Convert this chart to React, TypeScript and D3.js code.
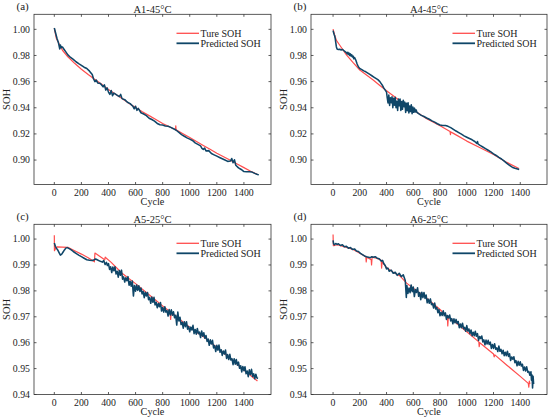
import React from "react";
import * as d3 from "d3";

type Pt = [number, number];

const cycleTicks = [0, 200, 400, 600, 800, 1000, 1200, 1400];
const sohTicksTop = [0.9, 0.92, 0.94, 0.96, 0.98, 1.0];
const sohTicksBottom = [0.94, 0.95, 0.96, 0.97, 0.98, 0.99, 1.0];
const seriesNames = ["Ture SOH", "Predicted SOH"];
const panelLabels = ["(a)", "(b)", "(c)", "(d)"];
const panelTitles = ["A1-45°C", "A4-45°C", "A5-25°C", "A6-25°C"];

const trueA: Pt[] = [
  [0, 1.001], [5, 0.998], [15, 0.993], [30, 0.99], [40, 0.988], [60, 0.984], [100, 0.979],
  [150, 0.974], [200, 0.9695], [250, 0.9655], [300, 0.9617], [350, 0.958], [400, 0.954],
  [450, 0.9505], [500, 0.947], [550, 0.9435], [600, 0.9402], [650, 0.937], [700, 0.934],
  [750, 0.931], [800, 0.928], [850, 0.9255], [895, 0.9232], [897, 0.9262], [899, 0.9232],
  [950, 0.9202], [1000, 0.9172], [1050, 0.9142], [1100, 0.9112], [1150, 0.9082],
  [1200, 0.9052], [1250, 0.9025], [1300, 0.8998], [1350, 0.897], [1400, 0.8942],
  [1450, 0.8915], [1500, 0.889],
];
const predA: Pt[] = [
  [0, 1.001], [10, 0.997], [20, 0.993], [30, 0.99], [40, 0.985], [45, 0.988], [50, 0.986],
  [60, 0.9865], [70, 0.985], [80, 0.9835], [100, 0.9805], [120, 0.9785], [140, 0.977],
  [160, 0.9752], [180, 0.9738], [200, 0.9725], [220, 0.971], [240, 0.970], [260, 0.968],
  [280, 0.9655], [290, 0.962], [300, 0.960], [310, 0.9612], [320, 0.959], [340, 0.9585],
  [360, 0.956], [370, 0.9575], [380, 0.9535], [390, 0.9552], [400, 0.952], [410, 0.9502],
  [420, 0.9532], [430, 0.9492], [440, 0.9512], [460, 0.9498], [480, 0.9485], [490, 0.9502],
  [500, 0.947], [520, 0.9462], [540, 0.9442], [560, 0.9432], [580, 0.9412], [590, 0.9392],
  [600, 0.9412], [610, 0.938], [620, 0.9395], [640, 0.9362], [660, 0.9352], [680, 0.934],
  [700, 0.932], [720, 0.931], [740, 0.9298], [760, 0.928], [780, 0.927], [800, 0.9268],
  [820, 0.926], [840, 0.9258], [860, 0.925], [880, 0.924], [900, 0.9228], [920, 0.9212],
  [940, 0.9195], [960, 0.9182], [980, 0.917], [1000, 0.916], [1020, 0.915], [1040, 0.9132],
  [1060, 0.912], [1080, 0.9108], [1090, 0.909], [1100, 0.9082], [1110, 0.9092],
  [1120, 0.907], [1140, 0.9072], [1160, 0.905], [1180, 0.904], [1200, 0.903],
  [1220, 0.902], [1240, 0.901], [1260, 0.900], [1280, 0.899], [1300, 0.8992],
  [1310, 0.9012], [1320, 0.898], [1330, 0.9002], [1340, 0.896], [1360, 0.894],
  [1380, 0.8928], [1400, 0.8912], [1420, 0.891], [1440, 0.891], [1460, 0.8908],
  [1480, 0.8898], [1500, 0.889], [1510, 0.8888],
];

const trueB: Pt[] = [
  [0, 1.0002], [12, 0.9957], [25, 0.9915], [49, 0.988], [100, 0.9804], [150, 0.9745],
  [200, 0.9689], [250, 0.965], [300, 0.9612], [350, 0.957], [400, 0.953], [450, 0.9492],
  [500, 0.9454], [550, 0.9418], [600, 0.9383], [650, 0.935], [700, 0.9316], [750, 0.929],
  [800, 0.9263], [875, 0.9218], [878, 0.9195], [881, 0.9215], [900, 0.9204],
  [1000, 0.9145], [1100, 0.9094], [1200, 0.9043], [1300, 0.8982], [1390, 0.8936],
];
const predB: Pt[] = [
  [0, 0.999], [4, 0.9975], [8, 0.996], [12, 0.995], [16, 0.993], [20, 0.99], [25, 0.9865],
  [30, 0.985], [40, 0.9845], [50, 0.9848], [60, 0.9842], [70, 0.9846], [80, 0.9838],
  [90, 0.983], [100, 0.9822], [105, 0.9812], [110, 0.9825], [115, 0.9808], [120, 0.9818],
  [125, 0.980], [130, 0.9812], [135, 0.9795], [140, 0.9805], [145, 0.9788], [150, 0.9795],
  [155, 0.9775], [160, 0.9785], [170, 0.9765], [180, 0.9735], [190, 0.9712], [200, 0.970],
  [215, 0.9692], [230, 0.9682], [245, 0.9675], [260, 0.9665], [275, 0.9655], [290, 0.9645],
  [305, 0.9635], [320, 0.9625], [335, 0.9615], [350, 0.960], [360, 0.9585], [370, 0.957],
  [380, 0.955], [390, 0.9535], [400, 0.952], [405, 0.9478], [411, 0.9437], [417, 0.9498],
  [423, 0.9417], [429, 0.9476], [435, 0.9439], [441, 0.9484], [447, 0.9401], [453, 0.9473],
  [459, 0.942], [465, 0.948], [471, 0.940], [477, 0.945], [483, 0.938], [489, 0.9467],
  [495, 0.9416], [501, 0.9466], [507, 0.9379], [513, 0.9448], [519, 0.9388], [525, 0.9458],
  [531, 0.9408], [537, 0.9443], [543, 0.9364], [549, 0.9434], [555, 0.9377], [561, 0.9439],
  [567, 0.9361], [573, 0.9413], [579, 0.9371], [585, 0.9423], [591, 0.9355], [597, 0.9405],
  [603, 0.9365], [609, 0.9397], [615, 0.9367], [621, 0.9384], [627, 0.9365], [640, 0.9355],
  [660, 0.9342], [680, 0.9333], [700, 0.9322], [720, 0.9312], [740, 0.930], [760, 0.929],
  [780, 0.9278], [800, 0.9268], [820, 0.9265], [840, 0.9265], [860, 0.9258], [880, 0.9248],
  [900, 0.9235], [920, 0.9222], [940, 0.921], [960, 0.9198], [980, 0.9185], [1000, 0.9175],
  [1020, 0.9165], [1040, 0.9155], [1060, 0.9142], [1075, 0.9128], [1080, 0.9142],
  [1085, 0.9122], [1100, 0.9112], [1120, 0.910], [1140, 0.9088], [1160, 0.9075],
  [1180, 0.9062], [1200, 0.9048], [1220, 0.9035], [1240, 0.902], [1260, 0.9008],
  [1280, 0.8992], [1300, 0.8975], [1320, 0.896], [1340, 0.8945], [1360, 0.8938],
  [1380, 0.8932], [1392, 0.8928],
];

const trueC: Pt[] = [
  [0, 1.0015], [1, 0.9955], [8, 0.9962], [20, 0.997], [60, 0.9969], [100, 0.9968],
  [150, 0.9955], [200, 0.9942], [250, 0.9928], [296, 0.9912], [300, 0.9946], [340, 0.9932],
  [372, 0.992], [376, 0.993], [420, 0.991], [500, 0.9868], [600, 0.9828], [700, 0.9785],
  [800, 0.9742], [855, 0.972], [859, 0.969], [863, 0.9716], [900, 0.9702], [950, 0.968],
  [1000, 0.966], [1050, 0.964], [1100, 0.9624], [1200, 0.9582], [1300, 0.954],
  [1400, 0.9494], [1500, 0.9452],
];
const predC: Pt[] = [
  [0, 0.9985], [8, 0.9972], [15, 0.9965], [25, 0.9958], [35, 0.9948], [45, 0.9938],
  [55, 0.9942], [65, 0.995], [75, 0.9958], [85, 0.9965], [95, 0.9967], [110, 0.9963],
  [125, 0.9958], [140, 0.9952], [160, 0.9945], [180, 0.9938], [200, 0.9932], [220, 0.9926],
  [240, 0.992], [260, 0.9918], [280, 0.9917], [295, 0.992], [305, 0.9923], [320, 0.9919],
  [340, 0.9914], [355, 0.9911], [365, 0.9917], [375, 0.9902], [385, 0.991], [392, 0.9898],
  [400, 0.9905], [408, 0.9883], [416, 0.9893], [424, 0.9871], [432, 0.9892], [440, 0.9878],
  [448, 0.9893], [456, 0.9865], [464, 0.9876], [472, 0.9853], [480, 0.9879], [488, 0.986],
  [496, 0.988], [504, 0.9845], [512, 0.9854], [520, 0.9834], [528, 0.9851], [536, 0.9839],
  [544, 0.9855], [552, 0.9822], [560, 0.9837], [568, 0.9818], [576, 0.9838], [584, 0.978],
  [592, 0.9821], [600, 0.9799], [608, 0.9823], [616, 0.9802], [624, 0.982], [632, 0.9798],
  [640, 0.9811], [648, 0.9788], [656, 0.9798], [664, 0.9774], [672, 0.9795], [680, 0.978],
  [688, 0.9794], [696, 0.9766], [704, 0.9775], [712, 0.9752], [720, 0.9776], [728, 0.9756],
  [736, 0.9775], [744, 0.9746], [752, 0.9756], [760, 0.9735], [768, 0.9751], [776, 0.9739],
  [784, 0.9755], [792, 0.9722], [800, 0.9736], [808, 0.9718], [816, 0.9739], [824, 0.9718],
  [832, 0.9724], [840, 0.9703], [848, 0.9728], [856, 0.9707], [864, 0.9727], [872, 0.9706],
  [880, 0.9719], [888, 0.9696], [896, 0.9706], [904, 0.9668], [912, 0.9718], [920, 0.9684],
  [928, 0.9698], [936, 0.967], [944, 0.9679], [952, 0.9656], [960, 0.9681], [968, 0.9662],
  [976, 0.9681], [984, 0.9652], [992, 0.9662], [1000, 0.9642], [1008, 0.966], [1016, 0.9649],
  [1024, 0.9667], [1032, 0.9635], [1040, 0.9651], [1048, 0.9633], [1056, 0.9655],
  [1064, 0.9635], [1072, 0.9641], [1080, 0.962], [1088, 0.9645], [1096, 0.9625],
  [1104, 0.9638], [1112, 0.9617], [1120, 0.9628], [1128, 0.9605], [1136, 0.9614],
  [1144, 0.959], [1152, 0.9611], [1160, 0.9595], [1168, 0.9609], [1176, 0.958],
  [1184, 0.9589], [1192, 0.9566], [1200, 0.959], [1208, 0.9571], [1216, 0.9591],
  [1224, 0.9563], [1232, 0.9573], [1240, 0.9551], [1248, 0.9568], [1256, 0.9556],
  [1264, 0.9572], [1272, 0.9539], [1280, 0.9554], [1288, 0.9535], [1296, 0.9555],
  [1304, 0.9533], [1312, 0.9538], [1320, 0.9515], [1328, 0.9538], [1336, 0.9517],
  [1344, 0.9535], [1352, 0.9513], [1360, 0.9525], [1368, 0.9501], [1376, 0.9511],
  [1384, 0.9487], [1392, 0.9508], [1400, 0.9492], [1408, 0.9507], [1416, 0.948],
  [1424, 0.9491], [1432, 0.9469], [1440, 0.9495], [1448, 0.9477], [1456, 0.9497],
  [1464, 0.947], [1472, 0.948], [1480, 0.9461], [1488, 0.9478], [1496, 0.9464],
  [1504, 0.9462],
];

const trueD: Pt[] = [
  [0, 1.0018], [2, 0.9975], [10, 0.9975], [30, 0.9978], [100, 0.9968], [150, 0.996],
  [200, 0.9945], [245, 0.9932], [248, 0.9912], [252, 0.993], [285, 0.992], [288, 0.990],
  [292, 0.993], [330, 0.9925], [360, 0.9918], [363, 0.9888], [367, 0.9912], [400, 0.989],
  [450, 0.9872], [500, 0.9858], [550, 0.983], [600, 0.981], [700, 0.9772], [800, 0.9728],
  [855, 0.970], [858, 0.9665], [862, 0.9698], [900, 0.9685], [1000, 0.9642],
  [1090, 0.9603], [1093, 0.9585], [1097, 0.960], [1200, 0.9556], [1205, 0.9545],
  [1210, 0.9553], [1300, 0.9513], [1400, 0.947], [1460, 0.9443], [1464, 0.9428],
  [1468, 0.9452], [1472, 0.944],
];
const predD: Pt[] = [
  [0, 0.9995], [4, 0.9982], [10, 0.9978], [20, 0.9983], [30, 0.9979], [40, 0.9982],
  [55, 0.9975], [70, 0.9978], [85, 0.997], [100, 0.9972], [115, 0.9965], [130, 0.9967],
  [145, 0.996], [160, 0.9962], [175, 0.9954], [190, 0.9952], [205, 0.9945], [220, 0.994],
  [235, 0.9935], [250, 0.9932], [265, 0.993], [280, 0.9928], [290, 0.9932], [300, 0.993],
  [315, 0.9932], [330, 0.9926], [345, 0.9924], [360, 0.9915], [370, 0.9918], [380, 0.9905],
  [390, 0.9898], [400, 0.9885], [410, 0.9888], [420, 0.9876], [435, 0.988], [450, 0.9868],
  [465, 0.9872], [480, 0.986], [495, 0.9868], [510, 0.9855], [525, 0.9862], [540, 0.984],
  [548, 0.9775], [552, 0.9821], [560, 0.979], [568, 0.9811], [576, 0.9793], [584, 0.9823],
  [592, 0.9797], [600, 0.9815], [608, 0.9778], [616, 0.9805], [624, 0.9794], [632, 0.9812],
  [640, 0.9779], [648, 0.9794], [656, 0.9766], [664, 0.9795], [672, 0.9774], [680, 0.9794],
  [688, 0.9771], [696, 0.9784], [704, 0.9754], [712, 0.9768], [720, 0.9752], [728, 0.9769],
  [736, 0.9747], [744, 0.9751], [752, 0.9734], [760, 0.9753], [768, 0.973], [776, 0.9736],
  [784, 0.9716], [792, 0.9728], [800, 0.9704], [808, 0.9717], [816, 0.9705], [824, 0.9723],
  [832, 0.9704], [840, 0.9715], [848, 0.969], [856, 0.9705], [864, 0.9696], [872, 0.9707],
  [880, 0.9684], [888, 0.9693], [896, 0.9673], [904, 0.9692], [912, 0.9677], [920, 0.969],
  [928, 0.9674], [936, 0.9682], [944, 0.9658], [952, 0.9672], [960, 0.9658], [968, 0.9675],
  [976, 0.9654], [984, 0.9659], [992, 0.9644], [1000, 0.9666], [1008, 0.9645],
  [1016, 0.9653], [1024, 0.9635], [1032, 0.9649], [1040, 0.9627], [1048, 0.964],
  [1056, 0.9627], [1064, 0.9644], [1072, 0.9625], [1080, 0.9635], [1088, 0.9609],
  [1096, 0.9624], [1104, 0.9616], [1112, 0.9626], [1120, 0.9603], [1128, 0.9611],
  [1136, 0.9592], [1144, 0.961], [1152, 0.9595], [1160, 0.9609], [1168, 0.9593],
  [1176, 0.9602], [1184, 0.9578], [1192, 0.9593], [1200, 0.9578], [1208, 0.9596],
  [1216, 0.9575], [1224, 0.958], [1232, 0.9566], [1240, 0.9587], [1248, 0.9567],
  [1256, 0.9574], [1264, 0.9557], [1272, 0.9571], [1280, 0.955], [1288, 0.9563],
  [1296, 0.955], [1304, 0.9567], [1312, 0.9547], [1320, 0.9557], [1328, 0.9531],
  [1336, 0.9545], [1344, 0.9536], [1352, 0.9546], [1360, 0.9523], [1368, 0.9531],
  [1376, 0.9511], [1384, 0.9528], [1392, 0.9513], [1400, 0.9526], [1408, 0.951],
  [1416, 0.9517], [1424, 0.9493], [1432, 0.9506], [1440, 0.9491], [1448, 0.9507],
  [1456, 0.9486], [1464, 0.9489], [1472, 0.9474], [1480, 0.9488], [1484, 0.9455],
  [1488, 0.9475], [1492, 0.9425], [1496, 0.947], [1500, 0.944],
];

const RED = "#ff4d4d";
const BLUE = "#0f4668";
const FONT = "'Liberation Serif', 'Times New Roman', serif";

interface PanelProps {
  left: number;
  top: number;
  width: number;
  height: number;
  xDomain: [number, number];
  yDomain: [number, number];
  yTicks: number[];
  label: string;
  title: string;
  trueData: Pt[];
  predData: Pt[];
}

function Panel(p: PanelProps) {
  const x = d3.scaleLinear().domain(p.xDomain).range([p.left, p.left + p.width]);
  const y = d3.scaleLinear().domain(p.yDomain).range([p.top + p.height, p.top]);
  const line = d3
    .line<Pt>()
    .x((d) => x(d[0]))
    .y((d) => y(d[1]));
  const tl = 2.5;
  const right = p.left + p.width;
  const bottom = p.top + p.height;
  const fmt = d3.format(".2f");
  const lgX = right - 94.5;
  const lgY = p.top + 19;
  return (
    <g>
      <path d={line(p.trueData) || ""} fill="none" stroke={RED} strokeWidth={1.2} strokeLinejoin="round" />
      <path d={line(p.predData) || ""} fill="none" stroke={BLUE} strokeWidth={1.55} strokeLinejoin="round" />
      <rect x={p.left} y={p.top} width={p.width} height={p.height} fill="none" stroke="#333" strokeWidth={0.8} />
      {cycleTicks.map((t) => (
        <g key={"x" + t}>
          <line x1={x(t)} x2={x(t)} y1={bottom} y2={bottom - tl} stroke="#333" strokeWidth={0.8} />
          <line x1={x(t)} x2={x(t)} y1={p.top} y2={p.top + tl} stroke="#333" strokeWidth={0.8} />
          <text x={x(t)} y={bottom + 11.3} textAnchor="middle" fontSize={9.8} fontFamily={FONT} fill="#222">
            {t}
          </text>
        </g>
      ))}
      {p.yTicks.map((t) => (
        <g key={"y" + t}>
          <line x1={p.left} x2={p.left + tl} y1={y(t)} y2={y(t)} stroke="#333" strokeWidth={0.8} />
          <line x1={right} x2={right - tl} y1={y(t)} y2={y(t)} stroke="#333" strokeWidth={0.8} />
          <text x={p.left - 4} y={y(t) + 3.4} textAnchor="end" fontSize={9.8} fontFamily={FONT} fill="#222">
            {fmt(t)}
          </text>
        </g>
      ))}
      <text x={(p.left + right) / 2} y={bottom + 20.8} textAnchor="middle" fontSize={10.2} fontFamily={FONT} fill="#222">
        Cycle
      </text>
      <text
        transform={`translate(${p.left - 24},${(p.top + bottom) / 2}) rotate(-90)`}
        textAnchor="middle"
        fontSize={10.5}
        fontFamily={FONT}
        fill="#222"
      >
        SOH
      </text>
      <text x={(p.left + right) / 2} y={p.top - 1.8} textAnchor="middle" fontSize={10.5} fontFamily={FONT} fill="#222">
        {p.title}
      </text>
      <text x={p.left - 17.5} y={p.top - 4.5} fontSize={11} fontFamily={FONT} fill="#222">
        {p.label}
      </text>
      <line x1={lgX} x2={lgX + 22.5} y1={lgY} y2={lgY} stroke={RED} strokeWidth={1.3} />
      <text x={lgX + 24} y={lgY + 3.5} fontSize={10} fontFamily={FONT} fill="#222">
        {seriesNames[0]}
      </text>
      <line x1={lgX} x2={lgX + 22.5} y1={lgY + 10} y2={lgY + 10} stroke={BLUE} strokeWidth={1.8} />
      <text x={lgX + 24} y={lgY + 13.5} fontSize={10} fontFamily={FONT} fill="#222">
        {seriesNames[1]}
      </text>
    </g>
  );
}

export default function App() {
  const W = 550;
  const H = 420;
  const topDomain: [number, number] = [0.8813, 1.0115];
  const botDomain: [number, number] = [0.94, 1.0057];
  const leftX: [number, number] = [-150, 1600];
  const rightX: [number, number] = [-165, 1600];
  const panels: PanelProps[] = [
    { left: 34, top: 14.3, width: 237, height: 170.2, xDomain: leftX, yDomain: topDomain, yTicks: sohTicksTop, label: panelLabels[0], title: panelTitles[0], trueData: trueA, predData: predA },
    { left: 311, top: 14.3, width: 236, height: 170.2, xDomain: rightX, yDomain: topDomain, yTicks: sohTicksTop, label: panelLabels[1], title: panelTitles[1], trueData: trueB, predData: predB },
    { left: 34, top: 224.3, width: 237, height: 170.2, xDomain: leftX, yDomain: botDomain, yTicks: sohTicksBottom, label: panelLabels[2], title: panelTitles[2], trueData: trueC, predData: predC },
    { left: 311, top: 224.3, width: 236, height: 170.2, xDomain: rightX, yDomain: botDomain, yTicks: sohTicksBottom, label: panelLabels[3], title: panelTitles[3], trueData: trueD, predData: predD },
  ];
  return (
    <svg
      width={W}
      height={H}
      viewBox={`0 0 ${W} ${H}`}
      style={{ position: "absolute", left: 0, top: 0, background: "#fff" }}
    >
      <rect x={0} y={0} width={W} height={H} fill="#fff" />
      {panels.map((p, i) => (
        <Panel key={i} {...p} />
      ))}
    </svg>
  );
}
